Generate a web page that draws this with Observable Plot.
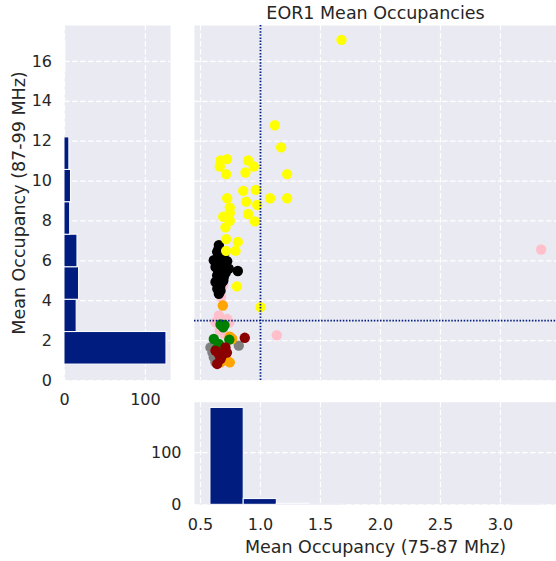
<!DOCTYPE html>
<html>
<head>
<meta charset="utf-8">
<script src="https://cdn.jsdelivr.net/npm/d3@7"></script>
<script src="https://cdn.jsdelivr.net/npm/@observablehq/plot@0.6"></script>
<style>
  html, body { margin: 0; padding: 0; background: white; }
  #chart { position: relative; width: 556px; height: 561px; overflow: hidden; font-family: "DejaVu Sans", sans-serif; }
  #chart > svg, #chart > figure { position: absolute; margin: 0; }
</style>
</head>
<body>
<div id="chart"></div>
<script>
// ---- data ----
const title = "EOR1 Mean Occupancies";
const xLabel = "Mean Occupancy (75-87 Mhz)";
const yLabel = "Mean Occupancy (87-99 MHz)";

const xTicks = [0.5, 1.0, 1.5, 2.0, 2.5, 3.0];
const yTicks = [0, 2, 4, 6, 8, 10, 12, 14, 16];
const countTicks = [0, 100];

const xThreshold = 1.0;
const yThreshold = 3.0;

// histogram of x (bottom)
const xBinEdges = [0.583, 0.86, 1.136, 1.413, 1.69, 1.966, 2.243, 2.52, 2.796, 3.073, 3.35];
const xBinCounts = [186, 11, 2, 1, 0, 0, 0, 0, 0, 1];
// histogram of y (left)
const yBinEdges = [0.80, 2.43, 4.05, 5.68, 7.31, 8.94, 10.56, 12.19, 13.82, 15.44, 17.07];
const yBinCounts = [126, 15, 18, 16, 7, 8, 6, 0, 0, 1];

// scatter groups (drawing order)
const groupNames = ["pink", "gray", "orange", "green", "darkred", "black", "yellow"];
const groupColors = ["#ffc0cb", "#808080", "#ffa500", "#1b721b", "#8b0000", "#1a1a1a", "#ffff00"];

const pinkX = [3.339, 1.136, 0.689, 0.672, 0.653, 0.722, 0.681, 0.694, 0.625, 0.70, 0.66, 0.74];
const pinkY = [6.57, 2.27, 4.77, 4.20, 3.26, 3.09, 2.84, 2.34, 2.92, 3.00, 2.50, 2.90];
const grayX = [0.819, 0.583, 0.611, 0.625, 0.60];
const grayY = [1.75, 1.66, 1.16, 0.91, 1.40];
const orangeX = [0.686, 0.744, 0.764, 0.667, 0.744, 0.689, 0.72, 0.76];
const orangeY = [3.76, 2.20, 2.08, 0.91, 0.91, 1.16, 1.00, 2.10];
const greenX = [0.667, 0.689, 0.70, 0.611, 0.653, 0.633, 0.74];
const greenY = [2.81, 2.67, 2.78, 2.08, 1.83, 1.58, 2.05];
const darkredX = [0.869, 0.653, 0.625, 0.667, 0.639, 0.708, 0.68, 0.72];
const darkredY = [2.14, 1.33, 1.50, 1.08, 0.83, 1.66, 1.25, 1.40];
const blackX = [0.653, 0.639, 0.611, 0.667, 0.722, 0.625, 0.681, 0.736, 0.811, 0.639, 0.694, 0.625, 0.667, 0.653, 0.667,
                0.65, 0.66, 0.69, 0.70, 0.65, 0.71, 0.67, 0.64, 0.68, 0.70, 0.63, 0.66, 0.69];
const blackY = [6.79, 6.45, 6.03, 6.03, 5.98, 5.69, 5.61, 5.61, 5.49, 5.27, 5.19, 4.94, 4.77, 4.35, 4.50,
                6.60, 6.20, 6.20, 5.85, 5.45, 5.40, 5.00, 4.60, 5.35, 6.40, 5.90, 5.80, 5.00];
const yellowX = [1.675, 1.119, 1.172, 1.222, 1.222, 1.08, 0.667, 0.722, 0.661, 0.714, 0.897, 0.944, 0.875, 0.856, 0.961, 0.722,
                 0.881, 0.972, 0.744, 0.744, 0.689, 0.897, 0.953, 0.744, 0.708, 0.714, 0.811, 0.714, 0.792, 0.803, 1.0];
const yellowY = [17.08, 12.80, 11.69, 10.35, 9.14, 9.14, 11.03, 11.10, 10.73, 10.35, 11.03, 10.73, 10.43, 9.51, 9.56, 9.14,
                 8.97, 8.80, 8.67, 8.41, 8.21, 8.35, 7.98, 8.01, 7.68, 7.09, 6.95, 6.50, 6.50, 4.72, 3.68];

// ---- build tables ----
const groupXs = [pinkX, grayX, orangeX, greenX, darkredX, blackX, yellowX];
const groupYs = [pinkY, grayY, orangeY, greenY, darkredY, blackY, yellowY];
const points = [];
groupNames.forEach((g, i) => {
  groupXs[i].forEach((x, j) => points.push({group: g, x, y: groupYs[i][j]}));
});
const xBins = xBinCounts.map((c, i) => ({lo: xBinEdges[i], hi: xBinEdges[i + 1], count: c})).filter(d => d.count > 0);
const yBins = yBinCounts.map((c, i) => ({lo: yBinEdges[i], hi: yBinEdges[i + 1], count: c})).filter(d => d.count > 0);

// ---- styling ----
const BG = "#eaeaf2";
const BAR = "#001c7f";
const TXT = "#262626";
const gridStyle = {stroke: "white", strokeWidth: 1.2, strokeDasharray: "5.5,2.5"};
const baseStyle = {fontFamily: "DejaVu Sans, sans-serif", fontSize: "16px", color: TXT, background: "transparent", overflow: "visible"};
const xDomain = [0.45, 3.467];
const yDomain = [0, 17.8];

const chart = document.getElementById("chart");

// main scatter
const main = Plot.plot({
  width: 362, height: 380,
  marginTop: 25, marginBottom: 0, marginLeft: 0, marginRight: 0,
  style: baseStyle,
  x: {domain: xDomain, axis: null},
  y: {domain: yDomain, axis: null},
  color: {domain: groupNames, range: groupColors},
  marks: [
    Plot.frame({fill: BG, stroke: "none"}),
    Plot.ruleX(xTicks, gridStyle),
    Plot.ruleY(yTicks, gridStyle),
    Plot.dot(points, {x: "x", y: "y", fill: "group", r: 5.2, stroke: "none"}),
    Plot.ruleX([xThreshold], {stroke: BAR, strokeWidth: 1.8, strokeDasharray: "1.5,1.6"}),
    Plot.ruleY([yThreshold], {stroke: BAR, strokeWidth: 1.8, strokeDasharray: "1.5,1.6"}),
    Plot.text([title], {frameAnchor: "top", lineAnchor: "bottom", dy: -6.7, fontSize: 17.5, fill: TXT})
  ]
});
main.style.left = "194px"; main.style.top = "0px";
chart.appendChild(main);

// left histogram (y)
const left = Plot.plot({
  width: 170, height: 410,
  marginTop: 25, marginBottom: 30, marginLeft: 64, marginRight: 0,
  style: baseStyle,
  x: {domain: [0, 131], ticks: countTicks, tickSize: 0, tickPadding: 13, label: null},
  y: {domain: yDomain, ticks: yTicks, tickSize: 0, tickPadding: 12.5, label: null},
  marks: [
    Plot.frame({fill: BG, stroke: "none"}),
    Plot.ruleX(countTicks, gridStyle),
    Plot.ruleY(yTicks, gridStyle),
    Plot.rect(yBins, {x1: d => 0, x2: "count", y1: "lo", y2: "hi", fill: BAR, stroke: "white", strokeWidth: 1}),
    Plot.text([yLabel], {frameAnchor: "left", rotate: -90, textAnchor: "middle", lineAnchor: "bottom", dx: -39.5, fontSize: 17.5, fill: TXT})
  ]
});
left.style.left = "0px"; left.style.top = "0px";
chart.appendChild(left);

// bottom histogram (x)
const bottom = Plot.plot({
  width: 556, height: 161,
  marginTop: 1.7, marginBottom: 56.7, marginLeft: 194, marginRight: 0,
  style: baseStyle,
  x: {domain: xDomain, ticks: xTicks, tickFormat: ".1f", tickSize: 0, tickPadding: 13.5, label: null},
  y: {domain: [0, 197], ticks: countTicks, tickSize: 0, tickPadding: 13, label: null},
  marks: [
    Plot.frame({fill: BG, stroke: "none"}),
    Plot.ruleX(xTicks, gridStyle),
    Plot.ruleY(countTicks, gridStyle),
    Plot.rect(xBins, {x1: "lo", x2: "hi", y1: d => 0, y2: "count", fill: BAR, stroke: "white", strokeWidth: 1}),
    Plot.text([xLabel], {frameAnchor: "bottom", lineAnchor: "bottom", dy: 48, fontSize: 17.5, fill: TXT})
  ]
});
bottom.style.left = "0px"; bottom.style.top = "400px";
chart.appendChild(bottom);
</script>
</body>
</html>
